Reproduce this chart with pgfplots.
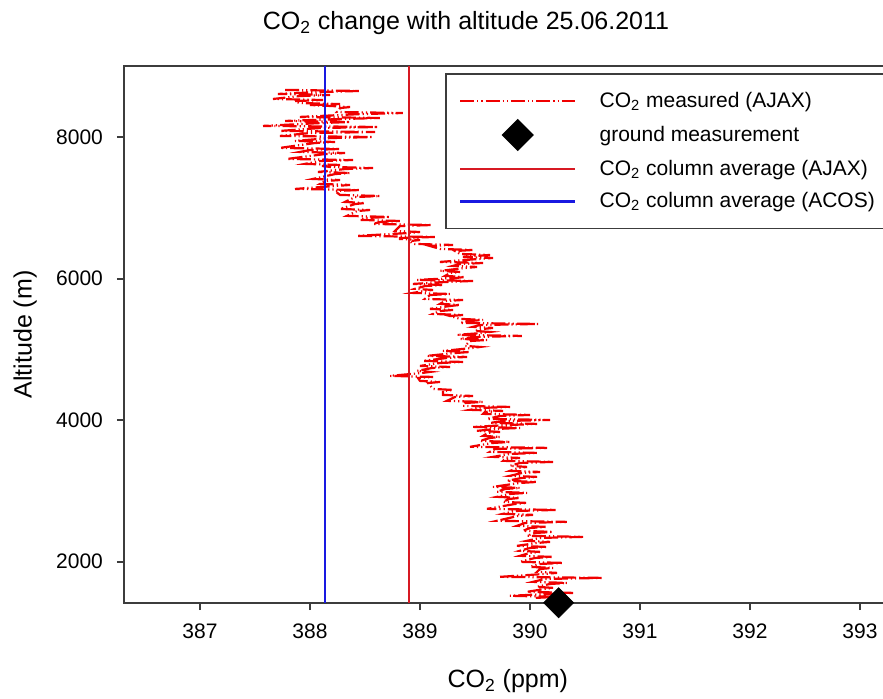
\documentclass[border=0pt]{standalone}
\usepackage{pgfplots}
\pgfplotsset{compat=1.18}
\usepackage{pgfplotstable}
\usepackage{fontspec}
\setmainfont{Liberation Sans}
\definecolor{prof}{RGB}{240,0,0}
\definecolor{avgred}{RGB}{215,25,35}
\definecolor{avgblue}{RGB}{25,25,225}
\definecolor{axgray}{RGB}{60,60,60}
\pgfplotsset{
  lineleg/.style={legend image code/.code={\draw[##1] (0pt,0pt) -- (57.5pt,0pt); \path (0pt,0pt) (67pt,0pt);}},
  markleg/.style={legend image code/.code={\draw[##1] plot coordinates {(28.75pt,0pt)}; \path (0pt,0pt) (67pt,0pt);}},
}
\pgfplotstableread{
x y
387.773 8670
388.455 8655
388.091 8640
387.709 8613
388.182 8598
387.909 8583
387.664 8542
388.118 8527
387.864 8512
387.900 8485
388.273 8470
388.000 8455
388.182 8443
388.364 8428
388.273 8413
388.245 8358
388.845 8343
388.455 8328
387.909 8288
388.636 8273
388.273 8258
387.773 8231
388.364 8216
388.091 8201
387.573 8161
388.618 8146
388.091 8131
387.727 8090
388.591 8075
388.000 8060
387.727 8019
388.573 8004
388.182 7989
387.864 7949
388.227 7934
388.045 7919
387.727 7850
388.273 7835
388.000 7820
387.909 7793
388.318 7778
388.136 7763
387.791 7694
388.391 7679
388.091 7664
387.955 7624
388.273 7609
388.109 7594
388.182 7581
388.573 7566
388.318 7551
388.073 7510
388.364 7495
388.227 7480
388.027 7411
388.273 7396
388.136 7381
388.091 7341
388.364 7326
388.227 7311
387.864 7270
388.455 7255
388.227 7240
388.273 7185
388.636 7170
388.409 7155
388.318 7086
388.500 7071
388.409 7056
388.273 6987
388.545 6972
388.427 6957
388.336 6889
388.727 6874
388.500 6859
388.455 6832
388.818 6817
388.636 6802
388.573 6775
389.109 6760
388.818 6745
388.773 6676
389.000 6661
388.891 6646
388.427 6606
389.136 6591
388.818 6576
388.818 6563
389.000 6548
388.909 6533
388.936 6493
389.300 6478
389.091 6463
389.182 6422
389.482 6407
389.318 6392
389.364 6351
389.636 6336
389.500 6321
389.391 6309
389.664 6294
389.527 6279
389.182 6238
389.573 6223
389.364 6208
389.300 6182
389.518 6167
389.409 6152
389.182 6111
389.364 6096
389.273 6081
389.227 6040
389.409 6025
389.318 6010
388.973 5984
389.482 5969
389.227 5954
388.936 5927
389.209 5912
389.045 5897
388.955 5857
389.118 5842
389.036 5827
388.936 5800
389.273 5785
389.091 5770
389.045 5715
389.391 5700
389.227 5685
389.182 5645
389.364 5630
389.273 5615
389.091 5574
389.300 5559
389.182 5544
389.118 5503
389.391 5488
389.273 5473
389.364 5433
389.573 5418
389.455 5403
389.364 5376
390.073 5361
389.545 5346
389.482 5320
389.664 5305
389.573 5290
389.500 5263
389.636 5248
389.564 5233
389.336 5207
389.927 5192
389.500 5177
389.364 5150
389.609 5135
389.455 5120
389.409 5051
389.545 5036
389.473 5021
389.209 4980
389.455 4965
389.318 4950
389.064 4910
389.427 4895
389.245 4880
389.027 4839
389.391 4824
389.182 4809
389.000 4768
389.273 4753
389.109 4738
388.973 4698
389.091 4683
389.018 4668
388.727 4627
389.118 4612
388.982 4597
389.000 4556
389.182 4541
389.073 4526
389.118 4443
389.300 4428
389.209 4413
389.209 4358
389.482 4343
389.318 4328
389.245 4274
389.573 4259
389.409 4244
389.391 4203
389.818 4188
389.545 4173
389.455 4147
389.755 4132
389.591 4117
389.573 4090
390.000 4075
389.727 4060
389.609 4019
390.182 4004
389.773 3989
389.636 3963
390.064 3948
389.818 3933
389.482 3906
389.909 3891
389.682 3876
389.518 3850
389.727 3835
389.618 3820
389.573 3779
389.727 3764
389.636 3749
389.545 3708
389.818 3693
389.655 3678
389.455 3624
390.155 3609
389.682 3594
389.636 3553
390.064 3538
389.818 3523
389.664 3482
389.909 3467
389.773 3452
389.755 3426
390.209 3411
389.909 3396
389.818 3355
389.973 3340
389.891 3325
389.818 3284
390.091 3269
389.927 3254
389.818 3214
390.064 3199
389.927 3184
389.791 3143
390.064 3128
389.909 3113
389.664 3058
389.909 3043
389.773 3028
389.700 2988
389.973 2973
389.818 2958
389.700 2917
389.909 2902
389.809 2887
389.755 2846
389.973 2831
389.864 2816
389.609 2747
390.245 2732
389.864 2717
389.755 2677
390.027 2662
389.891 2647
389.700 2578
390.336 2563
389.955 2548
389.882 2507
390.155 2492
390.000 2477
389.936 2436
390.209 2421
390.045 2406
389.973 2366
390.482 2351
390.091 2336
389.973 2295
390.182 2280
390.064 2265
389.882 2224
390.155 2209
390.000 2194
389.909 2154
390.091 2139
390.000 2124
389.909 2083
390.209 2068
390.045 2053
389.909 1998
390.300 1983
390.091 1968
390.000 1927
390.209 1912
390.091 1897
390.064 1857
390.245 1842
390.136 1827
389.727 1786
390.664 1771
390.136 1756
390.027 1715
390.336 1700
390.182 1685
390.064 1645
390.209 1630
390.136 1615
389.973 1574
390.391 1559
390.182 1544
389.818 1518
390.245 1503
390.045 1488
}\profile
\begin{document}
\begin{tikzpicture}
\begin{axis}[
  name=ax,
  scale only axis,
  width=381.5pt, height=268.5pt,
  xmin=386.309, xmax=393.2455,
  ymin=1416, ymax=9008,
  clip=false,
  xtick={387,388,389,390,391,392,393},
  ytick={2000,4000,6000,8000},
  tick pos=left,
  tick align=outside,
  major tick length=3.5pt,
  tick style={line width=0.8pt, color=axgray},
  axis line style={line width=1pt, color=axgray},
  /pgf/number format/assume math mode=true,
  /pgf/number format/1000 sep={},
  ticklabel style={font=\fontsize{10.5}{12}\selectfont},
  xticklabel style={yshift=-3.5pt},
  yticklabel style={xshift=-3.5pt},
  title={CO\textsubscript{2} change with altitude 25.06.2011},
  title style={at={(axis description cs:0.4482,1.058)}, anchor=center, font=\fontsize{12.5}{15}\selectfont},
  xlabel={CO\textsubscript{2} (ppm)},
  xlabel style={at={(axis description cs:0.503,-0.145)}, anchor=center, font=\fontsize{12.5}{15}\selectfont},
  ylabel={Altitude (m)},
  ylabel style={at={(axis description cs:-0.1297,0.5)}, anchor=center, font=\fontsize{12.5}{15}\selectfont},
  legend cell align=left,
  legend style={at={(0.4207,1)}, anchor=north west, yshift=-3.5pt,
    draw=axgray, line width=0.8pt, inner xsep=6.5pt, inner ysep=7pt,
    font=\fontsize{10.5}{12}\selectfont, row sep=3pt},
]
\addplot[prof, line width=1.1pt, dash pattern=on 7pt off 1.5pt on 0.6pt off 1.5pt on 0.6pt off 1.5pt, lineleg]
  table[x=x,y=y] {\profile};
\addlegendentry{\makebox[150pt][l]{CO\textsubscript{2} measured (AJAX)}}
\addlegendimage{only marks, mark=square*, mark size=5.3pt, mark options={rotate=45, fill=black, draw=black}, markleg}
\addlegendentry{\makebox[150pt][l]{ground measurement}}
\addplot[avgred, line width=1.4pt, lineleg]
  coordinates {(388.90,1416) (388.90,9008)};
\addlegendentry{\makebox[150pt][l]{CO\textsubscript{2} column average (AJAX)}}
\addplot[avgblue, line width=1.4pt, lineleg]
  coordinates {(388.136,1416) (388.136,9008)};
\addlegendentry{\makebox[150pt][l]{CO\textsubscript{2} column average (ACOS)\rule[-7pt]{0pt}{1pt}}}
\addplot[forget plot, only marks, mark=square*, mark size=5.3pt, mark options={rotate=45, fill=black, draw=black}]
  coordinates {(390.26,1420)};
\end{axis}
\pgfresetboundingbox
\useasboundingbox (ax.south west) ++(-62pt,-47.5pt) rectangle ++(441.5pt,349pt);
\end{tikzpicture}
\end{document}
